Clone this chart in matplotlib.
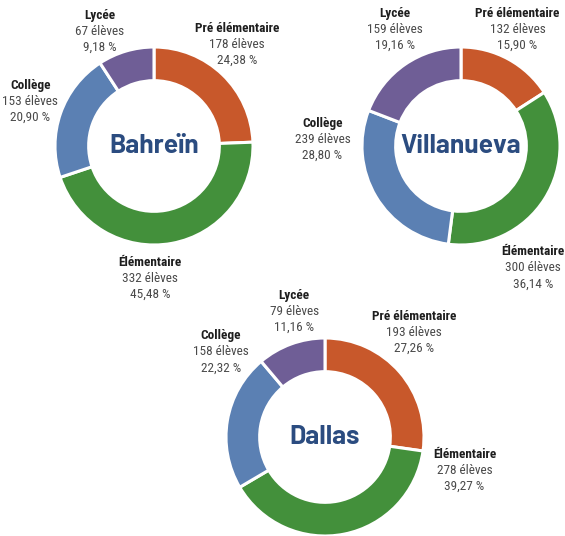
import matplotlib.pyplot as plt
import numpy as np

plt.rcParams['font.family'] = ['Roboto Condensed', 'DejaVu Sans']

levels = ["Pré élémentaire", "Élémentaire", "Collège", "Lycée"]
colors = ["#C8582B", "#43903B", "#5B80B3", "#6F5E96"]

cities = ["Bahreïn", "Villanueva", "Dallas"]
students = [
    [178, 332, 153, 67],
    [132, 300, 239, 159],
    [193, 278, 158, 79],
]
shares = [
    ["24,38", "45,48", "20,90", "9,18"],
    ["15,90", "36,14", "28,80", "19,16"],
    ["27,26", "39,27", "22,32", "11,16"],
]

# layout in pixels (figure is 565 x 536)
W, H = 565, 536
centers = [(154, 146), (461, 146), (325, 437)]
radius = 99
# label offsets relative to the radius, one per level
label_pos = [
    [(0.84, 1.03), (-0.04, -1.34), (-1.25, 0.45), (-0.55, 1.16)],
    [(0.57, 1.18), (0.73, -1.23), (-1.40, 0.07), (-0.67, 1.18)],
    [(0.90, 1.06), (1.41, -0.34), (-1.05, 0.86), (-0.31, 1.27)],
]
LINE = 16

fig = plt.figure(figsize=(W / 100, H / 100), dpi=100)
ax = fig.add_axes([0, 0, 1, 1])

for i, city in enumerate(cities):
    cx, cy = centers[i]
    ax.pie(students[i], colors=colors, startangle=90, counterclock=False,
           center=(cx, -cy), radius=radius,
           wedgeprops=dict(width=radius * 0.34, edgecolor='white', linewidth=2.2))
    ax.text(cx, -cy, city, ha='center', va='center', fontsize=19,
            fontweight='bold', color='#2B4C80', family=['Barlow', 'DejaVu Sans'])
    for j, level in enumerate(levels):
        dx, dy = label_pos[i][j]
        lx, ly = cx + dx * radius, -cy + dy * radius
        ax.text(lx, ly + LINE, level, ha='center', va='center', fontsize=9.5,
                fontweight='bold', color='#1E1E1E')
        ax.text(lx, ly, f"{students[i][j]} élèves", ha='center', va='center',
                fontsize=9.5, color='#4A4A4A')
        ax.text(lx, ly - LINE, f"{shares[i][j]} %", ha='center', va='center',
                fontsize=9.5, color='#4A4A4A')

ax.set_xlim(0, W)
ax.set_ylim(-H, 0)
ax.set_aspect('equal')
ax.axis('off')

fig.savefig("out.png", dpi=100)
